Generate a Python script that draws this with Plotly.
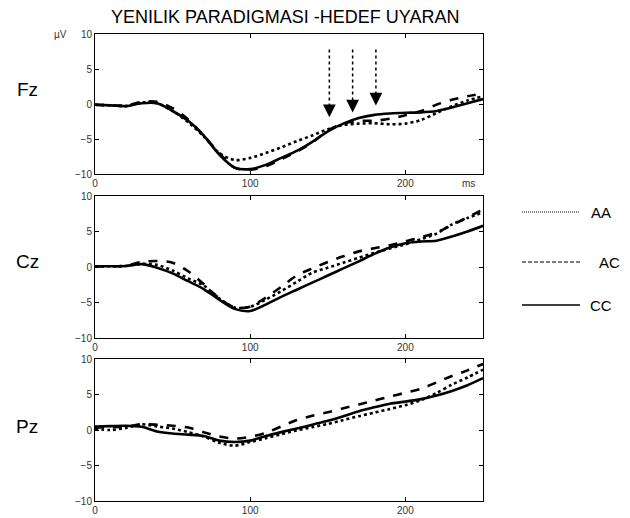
import plotly.graph_objects as go

t = [0, 10, 20, 30, 40, 50, 60, 70, 80, 90, 100, 110, 120, 130, 140, 150,
     160, 170, 180, 190, 200, 210, 220, 230, 240, 250]

fz_AA = [-0.1, -0.2, -0.3, 0.2, 0.1, -1.0, -2.6, -4.6, -7.0, -8.0, -7.7, -7.0, -6.2,
         -5.3, -4.5, -3.6, -3.0, -2.8, -2.75, -2.9, -2.8, -2.3, -1.3, -0.3, 0.5, 1.1]
fz_AC = [-0.1, -0.2, -0.2, 0.3, 0.3, -0.6, -2.2, -4.5, -7.0, -9.1, -9.4, -8.9, -7.9,
         -6.8, -5.5, -3.8, -2.8, -2.4, -2.4, -2.1, -1.6, -1.0, -0.1, 0.6, 1.1, 1.5]
fz_CC = [-0.1, -0.2, -0.3, 0.1, 0.1, -1.0, -2.4, -4.5, -7.2, -9.1, -9.3, -8.7, -7.7,
         -6.7, -5.4, -3.9, -2.8, -2.0, -1.55, -1.35, -1.25, -1.2, -1.0, -0.5, 0.1, 0.7]

cz_AA = [0.1, 0.1, 0.15, 0.45, 0.3, -0.5, -1.6, -2.6, -4.4, -5.7, -5.6, -4.6, -3.4,
         -2.1, -0.8, -0.1, 0.6, 1.3, 2.0, 2.6, 3.2, 3.9, 4.7, 6.0, 6.9, 7.7]
cz_AC = [0.1, 0.1, 0.2, 0.7, 0.85, 0.6, -0.6, -2.4, -4.4, -5.7, -5.6, -4.3, -2.8,
         -1.2, -0.2, 0.7, 1.5, 2.2, 2.65, 3.05, 3.6, 4.2, 4.85, 5.9, 7.0, 8.1]
cz_CC = [0.1, 0.1, 0.15, 0.4, -0.1, -0.9, -2.0, -3.1, -4.6, -5.9, -6.2, -5.3, -4.2,
         -3.2, -2.2, -1.2, -0.2, 0.8, 1.85, 2.75, 3.35, 3.6, 3.7, 4.3, 5.0, 5.8]

pz_AA = [0.15, 0.0, 0.3, 0.8, 0.5, 0.2, -0.3, -0.9, -1.8, -2.2, -1.7, -1.15, -0.6,
         -0.05, 0.4, 0.85, 1.4, 1.95, 2.45, 2.95, 3.5, 4.2, 5.2, 6.4, 7.4, 8.5]
pz_AC = [0.35, 0.4, 0.5, 0.8, 0.75, 0.6, 0.35, -0.3, -0.9, -1.2, -0.95, -0.4, 0.5,
         1.4, 2.0, 2.5, 3.05, 3.6, 4.15, 4.7, 5.25, 5.8, 6.7, 7.6, 8.4, 9.3]
pz_CC = [0.5, 0.55, 0.6, 0.45, -0.2, -0.5, -0.65, -0.85, -1.5, -1.7, -1.5, -0.85, -0.3,
         0.2, 0.75, 1.3, 1.95, 2.65, 3.2, 3.7, 4.0, 4.35, 4.85, 5.5, 6.3, 7.3]

series_names = ["AA", "AC", "CC"]
series_dash = {"AA": "dot", "AC": "dash", "CC": "solid"}
legend_dash = {"AA": "1px,1px", "AC": "4px,2px", "CC": "solid"}
panels = [("Fz", {"AA": fz_AA, "AC": fz_AC, "CC": fz_CC}),
          ("Cz", {"AA": cz_AA, "AC": cz_AC, "CC": cz_CC}),
          ("Pz", {"AA": pz_AA, "AC": pz_AC, "CC": pz_CC})]

x_ticks = [0, 100, 200]
y_ticks = [-10, -5, 0, 5, 10]
arrow_x = [151, 166, 181]
arrow_tip = [-1.9, -1.2, -0.2]
arrow_top = 7.8

W, H = 630, 518
x_dom = [95 / W, 483 / W]
y_doms = [[1 - 174 / H, 1 - 34 / H], [1 - 338 / H, 1 - 196 / H], [1 - 501 / H, 1 - 359 / H]]
label_y = [90, 261, 426]

fig = go.Figure()
font = "Arial, Liberation Sans, sans-serif"


def note(text, px, py, size, color="black"):
    fig.add_annotation(text=text, x=px / W, y=1 - py / H, xref="paper", yref="paper",
                       xanchor="center", yanchor="middle", showarrow=False,
                       font=dict(family=font, size=size, color=color))


for i, (pname, data) in enumerate(panels):
    ax = "" if i == 0 else str(i + 1)
    for s in series_names:
        fig.add_trace(go.Scatter(
            x=t, y=data[s], mode="lines", name=s, showlegend=False,
            line=dict(color="black", width=2.6, dash=series_dash[s], shape="spline", smoothing=0.8),
            xaxis="x" + ax, yaxis="y" + ax))
    axis_common = dict(showline=True, linecolor="black", linewidth=1, mirror="ticks",
                       ticks="inside", ticklen=4, tickcolor="black", showgrid=False,
                       zeroline=False, automargin=False,
                       tickfont=dict(family=font, size=10, color="#333"))
    fig.layout["xaxis" + ax] = dict(domain=x_dom, range=[0, 250], tickvals=x_ticks,
                                    anchor="y" + ax, **axis_common)
    fig.layout["yaxis" + ax] = dict(domain=y_doms[i], range=[-10, 10], tickvals=y_ticks,
                                    anchor="x" + ax, **axis_common)
    note(pname, 27, label_y[i], 19)

# arrows in Fz panel
for xa, tip in zip(arrow_x, arrow_tip):
    fig.add_shape(type="line", x0=xa, x1=xa, y0=arrow_top, y1=tip + 1.5, xref="x", yref="y",
                  line=dict(color="black", width=1.5, dash="dot"))
    fig.add_annotation(x=xa, y=tip, ax=0, ay=-14, xref="x", yref="y", text="",
                       showarrow=True, arrowhead=2, arrowsize=1.7, arrowwidth=1.5,
                       arrowcolor="black")

note("YENILIK PARADIGMASI -HEDEF UYARAN", 285, 17, 18)
note("µV", 60, 35, 10, "#333")
note("ms", 468, 183, 10, "#333")

# legend
leg_y = [212, 262, 305]
leg_tx = [601, 609, 601]
for s, ly, tx in zip(series_names, leg_y, leg_tx):
    fig.add_shape(type="line", x0=522 / W, x1=580 / W, y0=1 - ly / H, y1=1 - ly / H,
                  xref="paper", yref="paper",
                  line=dict(color="black", width=1.2 if s != "CC" else 1.5, dash=legend_dash[s]))
    note(s, tx, ly, 15)

fig.update_layout(width=W, height=H, margin=dict(l=0, r=0, t=0, b=0, autoexpand=False),
                  paper_bgcolor="white", plot_bgcolor="white", showlegend=False)

fig.write_html("out.html")
